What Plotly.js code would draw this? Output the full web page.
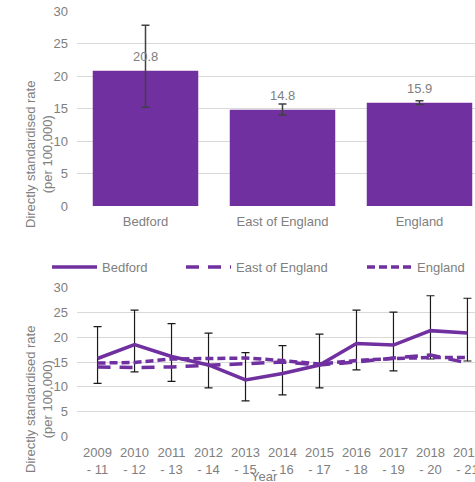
<!DOCTYPE html>
<html>
<head>
<meta charset="utf-8">
<script src="https://cdn.plot.ly/plotly-3.0.1.min.js"></script>
<style>
  html, body { margin: 0; padding: 0; overflow: hidden; background: #fff; }
  #chart { width: 500px; height: 482px; }
</style>
</head>
<body>
<div id="chart"></div>
<script>
// ---- Data ----
const areas = ["Bedford", "East of England", "England"];
const areaRates = [20.8, 14.8, 15.9];
const areaLower = [15.2, 14.0, 15.6];
const areaUpper = [27.8, 15.7, 16.2];

const periods = ["2009 - 11", "2010 - 12", "2011 - 13", "2012 - 14", "2013 - 15", "2014 - 16",
                 "2015 - 17", "2016 - 18", "2017 - 19", "2018 - 20", "2019 - 21"];
const bedford = [15.7, 18.5, 16.1, 14.4, 11.4, 12.7, 14.4, 18.7, 18.4, 21.3, 20.8];
const bedfordLower = [10.7, 13.0, 11.1, 9.8, 7.2, 8.4, 9.8, 13.4, 13.2, 15.6, 15.2];
const bedfordUpper = [22.1, 25.4, 22.7, 20.8, 16.9, 18.3, 20.6, 25.4, 25.0, 28.3, 27.8];
const eastOfEngland = [14.0, 13.9, 14.0, 14.3, 14.7, 15.0, 14.4, 15.0, 15.8, 16.4, 14.8];
const england = [14.8, 14.9, 15.6, 15.7, 15.8, 15.3, 14.6, 15.3, 15.7, 15.9, 15.9];

const yTicks = [0, 5, 10, 15, 20, 25, 30];
const yTitle = "Directly standardised rate<br>(per 100,000)";
const xTitle = "Year";

// ---- Styling ----
const purple = "#7030A0";
const grey = "#808080";
const grid = "#d9d9d9";
const font = "Liberation Sans, Arial, sans-serif";
const W = 500, H = 482;
const px = v => v / W;
const py = v => 1 - v / H;

const traces = [
  {
    type: "bar", x: areas, y: areaRates, xaxis: "x", yaxis: "y",
    marker: { color: purple },
    cliponaxis: false,
    error_y: {
      type: "data", symmetric: false,
      array: areaUpper.map((u, i) => u - areaRates[i]),
      arrayminus: areaLower.map((l, i) => areaRates[i] - l),
      color: "#404040", thickness: 1.5, width: 4
    },
    showlegend: false, hoverinfo: "skip"
  },
  {
    type: "scatter", mode: "lines", name: "Bedford", x: periods, y: bedford,
    xaxis: "x2", yaxis: "y2", legend: "legend",
    line: { color: purple, width: 3.5 },
    error_y: {
      type: "data", symmetric: false,
      array: bedfordUpper.map((u, i) => u - bedford[i]),
      arrayminus: bedfordLower.map((l, i) => bedford[i] - l),
      color: "#1a1a1a", thickness: 1.2, width: 4
    }
  },
  {
    type: "scatter", mode: "lines", name: "East of England", x: periods, y: eastOfEngland,
    xaxis: "x2", yaxis: "y2", legend: "legend2",
    line: { color: purple, width: 3.5, dash: "13px,9px" }
  },
  {
    type: "scatter", mode: "lines", name: "England", x: periods, y: england,
    xaxis: "x2", yaxis: "y2", legend: "legend3",
    line: { color: purple, width: 3.5, dash: "8px,4px" }
  }
];

const xDomain = [px(77), px(488)];
const yAxisCommon = {
  range: [0, 30], tickvals: yTicks, showgrid: true, gridcolor: grid, gridwidth: 1,
  zeroline: false, showline: false, ticks: "", ticklabelstandoff: 8,
  tickfont: { color: grey, size: 13, family: font }, automargin: false, fixedrange: true
};
const xAxisCommon = {
  domain: xDomain, type: "category", showgrid: false, zeroline: false, showline: false,
  ticks: "", ticklabelstandoff: 6,
  tickfont: { color: grey, size: 13, family: font }, automargin: false, fixedrange: true
};
const legendCommon = {
  orientation: "h", yanchor: "middle", xanchor: "left", y: py(267),
  font: { color: grey, size: 13, family: font }, bgcolor: "rgba(0,0,0,0)",
  itemwidth: 45, borderwidth: 0
};

const barLabels = areas.map((a, i) => ({
  text: areaRates[i].toFixed(1), xref: "x", yref: "y", x: a, y: areaRates[i],
  showarrow: false, xanchor: "center", yanchor: "bottom", yshift: 5,
  font: { color: grey, size: 13, family: font }
}));

const layout = {
  width: W, height: H,
  margin: { l: 0, r: 0, t: 0, b: 0 },
  paper_bgcolor: "#fff", plot_bgcolor: "#fff",
  font: { family: font, color: grey, size: 13 },
  bargap: 0.23,
  xaxis: Object.assign({}, xAxisCommon, { anchor: "y" }),
  yaxis: Object.assign({}, yAxisCommon, { domain: [py(206), py(11)], anchor: "x" }),
  xaxis2: Object.assign({}, xAxisCommon, {
    anchor: "y2", tickvals: periods, ticktext: periods.map(p => p.replace(" - ", "<br>- "))
  }),
  yaxis2: Object.assign({}, yAxisCommon, { domain: [py(436.7), py(287.3)], anchor: "x2" }),
  showlegend: true,
  legend: Object.assign({}, legendCommon, { x: px(47) }),
  legend2: Object.assign({}, legendCommon, { x: px(181) }),
  legend3: Object.assign({}, legendCommon, { x: px(362) }),
  annotations: barLabels.concat([
    { text: yTitle, xref: "paper", yref: "paper", x: px(39), y: py(155), textangle: -90,
      showarrow: false, xanchor: "center", yanchor: "middle",
      font: { color: grey, size: 13, family: font } },
    { text: yTitle, xref: "paper", yref: "paper", x: px(39), y: py(400), textangle: -90,
      showarrow: false, xanchor: "center", yanchor: "middle",
      font: { color: grey, size: 13, family: font } },
    { text: xTitle, xref: "paper", yref: "paper", x: px(264), y: py(476),
      showarrow: false, xanchor: "center", yanchor: "middle",
      font: { color: grey, size: 13, family: font } }
  ])
};

Plotly.newPlot("chart", traces, layout, { displayModeBar: false, staticPlot: true });
</script>
</body>
</html>
